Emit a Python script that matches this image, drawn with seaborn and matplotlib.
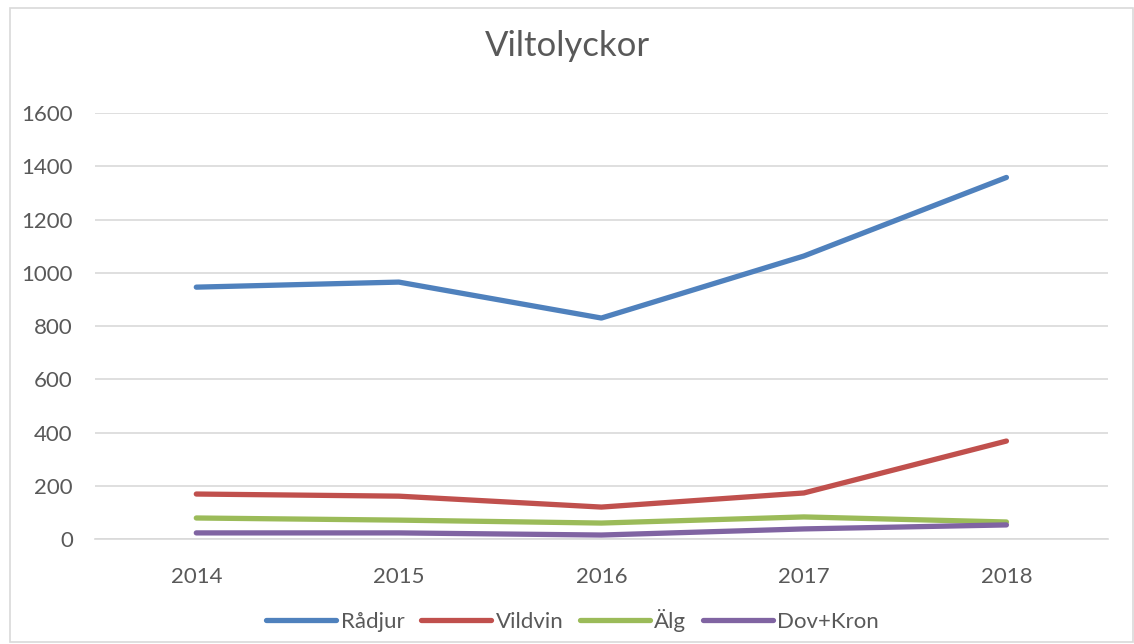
import matplotlib
matplotlib.use("Agg")
import matplotlib.pyplot as plt
import pandas as pd
import seaborn as sns
from matplotlib.patches import Rectangle

years = ["2014", "2015", "2016", "2017", "2018"]
radjur = [946, 965, 830, 1063, 1358]
vildvin = [169, 161, 120, 173, 368]
alg = [79, 71, 60, 83, 64]
dov_kron = [23, 23, 15, 38, 53]

series = {"Rådjur": radjur, "Vildvin": vildvin, "Älg": alg, "Dov+Kron": dov_kron}
colors = ["#4F81BD", "#C0504D", "#9BBB59", "#8064A2"]

df = pd.DataFrame(
    [(name, i, v) for name, vals in series.items() for i, v in enumerate(vals)],
    columns=["Art", "idx", "Antal"],
)

sns.set_style("white")
plt.rcParams["font.family"] = ["Lato", "DejaVu Sans"]

fig = plt.figure(figsize=(11.34, 6.44), dpi=100)
ax = fig.add_axes([0.0838, 0.163, 0.893, 0.6615])

sns.lineplot(data=df, x="idx", y="Antal", hue="Art", palette=colors,
             linewidth=3.8, ax=ax, legend=True, solid_capstyle="round")

ax.set_xlim(-0.5, 4.5)
ax.set_ylim(0, 1600)
ax.set_yticks(range(0, 1601, 200))
ax.set_xticks(range(len(years)))
ax.set_xticklabels(years)
ax.grid(axis="y", color="#D9D9D9", linewidth=1.2)
ax.set_axisbelow(True)
for s in ["top", "right", "left"]:
    ax.spines[s].set_visible(False)
ax.spines["bottom"].set_color("#D9D9D9")
ax.spines["bottom"].set_linewidth(1.2)
ax.tick_params(axis="both", length=0, labelsize=16, colors="#595959")
ax.tick_params(axis="y", pad=16)
ax.tick_params(axis="x", pad=20)
ax.set_xlabel("")
ax.set_ylabel("")

fig.text(0.5, 0.928, "Viltolyckor", ha="center", va="center",
         fontsize=25, color="#595959")

# legend is centred on the figure, not the plot area
leg = fig.legend(*ax.get_legend_handles_labels(), loc="center",
                 bbox_to_anchor=(0.505, 0.037), ncol=4, frameon=False,
                 fontsize=16, handlelength=3.15, handletextpad=0.2,
                 columnspacing=0.75)
ax.get_legend().remove()
for t in leg.get_texts():
    t.set_color("#595959")
for h in leg.get_lines():
    h.set_linewidth(3.8)

fig.patches.append(Rectangle((0.009, 0.003), 0.99, 0.985, transform=fig.transFigure,
                             fill=False, edgecolor="#D9D9D9", linewidth=1.2))

fig.savefig("out.png", dpi=100)
